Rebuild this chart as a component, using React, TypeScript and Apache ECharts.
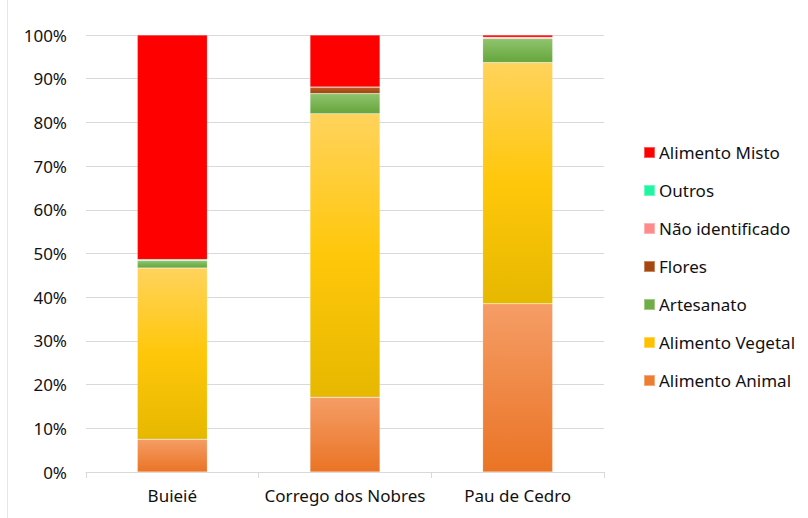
import React, { useEffect, useRef } from "react";
import * as echarts from "echarts";

const categories = ["Buieié", "Corrego dos Nobres", "Pau de Cedro"];
const alimentoAnimal = [7.5, 17.1, 38.5];
const alimentoVegetal = [39.2, 64.9, 55.2];
const artesanato = [1.7, 4.6, 5.5];
const flores = [0, 1.5, 0];
const naoIdentificado = [0, 0, 0.3];
const outros = [0.2, 0, 0];
const alimentoMisto = [51.4, 11.9, 0.5];
const legendOrder = [
  "Alimento Misto",
  "Outros",
  "Não identificado",
  "Flores",
  "Artesanato",
  "Alimento Vegetal",
  "Alimento Animal",
];

const grad = (stops: [number, string][]) =>
  new echarts.graphic.LinearGradient(
    0, 0, 0, 1,
    stops.map(([offset, color]) => ({ offset, color }))
  );

export default function App() {
  const ref = useRef<HTMLDivElement>(null);
  useEffect(() => {
    if (!ref.current) return;
    const chart = echarts.init(ref.current, null, { renderer: "svg" });
    const font = "'Noto Sans', sans-serif";
    const seriesDefs = [
      { name: "Alimento Animal", data: alimentoAnimal, flat: "#ED7D31", fill: grad([[0, "#F59D66"], [1, "#EA7425"]]) },
      { name: "Alimento Vegetal", data: alimentoVegetal, flat: "#FFC000", fill: grad([[0, "#FFD35C"], [0.5, "#FFC70A"], [1, "#E6B800"]]) },
      { name: "Artesanato", data: artesanato, flat: "#70AD47", fill: grad([[0, "#8FC46D"], [1, "#66A53C"]]) },
      { name: "Flores", data: flores, flat: "#A5470F", fill: grad([[0, "#C0602A"], [1, "#9E4208"]]) },
      { name: "Não identificado", data: naoIdentificado, flat: "#FF8A8A", fill: "#FF8A8A" },
      { name: "Outros", data: outros, flat: "#1EF7A0", fill: "#1EF7A0" },
      { name: "Alimento Misto", data: alimentoMisto, flat: "#FF0000", fill: "#FF0000" },
    ];
    const flatColor: Record<string, string> = {};
    seriesDefs.forEach((s) => (flatColor[s.name] = s.flat));
    chart.setOption({
      animation: false,
      textStyle: { fontFamily: font },
      grid: { left: 86, right: 204, top: 35, bottom: 46, containLabel: false },
      legend: {
        orient: "vertical",
        left: 638,
        top: 139,
        itemWidth: 11,
        itemHeight: 11,
        itemGap: 21,
        icon: "rect",
        textStyle: { fontSize: 17, color: "#111", fontFamily: font, lineHeight: 17, padding: [0, 0, 0, -1] },
        data: legendOrder.map((n) => ({ name: n, itemStyle: { color: flatColor[n] } })),
      },
      xAxis: {
        type: "category",
        data: categories,
        axisLine: { show: true, lineStyle: { color: "#D9D9D9", width: 1 } },
        axisTick: { show: true, length: 6, lineStyle: { color: "#D9D9D9" } },
        axisLabel: { fontSize: 17, color: "#111", margin: 15, fontFamily: font, interval: 0 },
      },
      yAxis: {
        type: "value",
        min: 0,
        max: 100,
        interval: 10,
        axisLine: { show: false },
        axisTick: { show: false },
        splitLine: { lineStyle: { color: "#D9D9D9", width: 1 } },
        axisLabel: { fontSize: 17, color: "#111", margin: 19, formatter: "{value}%", fontFamily: font },
      },
      graphic: [
        { type: "line", shape: { x1: 7.5, y1: 0, x2: 7.5, y2: 518 }, style: { stroke: "#E3E7EC", lineWidth: 1 } },
      ],
      series: seriesDefs.map((s) => ({
        name: s.name,
        type: "bar",
        stack: "total",
        barWidth: 70,
        data: s.data,
        itemStyle: { color: s.fill, borderColor: "rgba(255,255,255,0.35)", borderWidth: 0.5 },
      })),
    });
    return () => chart.dispose();
  }, []);
  return (
    <div
      ref={ref}
      style={{ position: "fixed", left: 0, top: 0, width: 808, height: 518, background: "#fff" }}
    />
  );
}
